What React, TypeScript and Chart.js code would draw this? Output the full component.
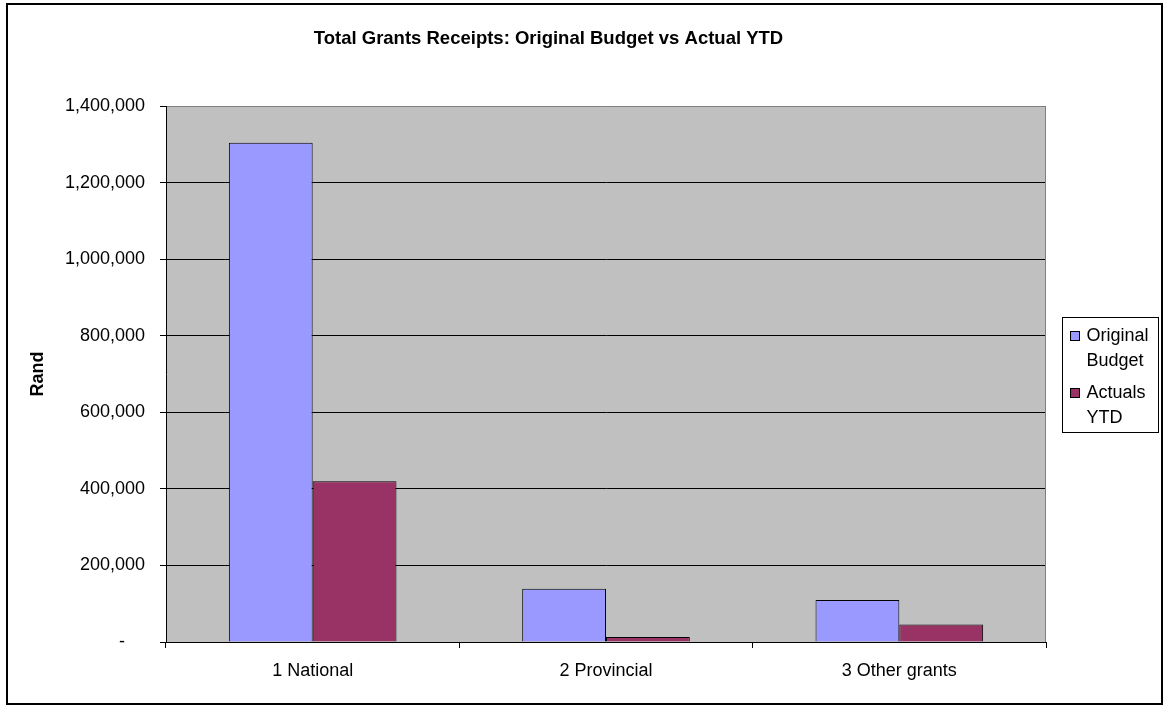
import React, { useEffect, useRef } from 'react';
import { Chart, registerables, layouts } from 'chart.js';

Chart.register(...registerables);

// ---- data ----
const CATEGORIES = ['1 National', '2 Provincial', '3 Other grants'];
const ORIGINAL_BUDGET = [1304000, 139000, 110000];
const ACTUALS_YTD = [420000, 13000, 46000];
const SERIES_NAMES = ['Original Budget', 'Actuals YTD'];
const SERIES_COLORS = ['#9999FF', '#993366'];
const Y_MIN = 0;
const Y_MAX = 1400000;
const Y_STEP = 200000;
const CHART_TITLE = 'Total Grants Receipts: Original Budget vs Actual YTD';
const Y_TITLE = 'Rand';

// ---- look ----
const FONT = '"Liberation Sans", Arial, Helvetica, sans-serif';
const W = 1165;
const H = 706;
const PLOT_BG = '#C0C0C0';
// space right of the plot: part is the legend slot, part is outer padding
const LEGEND_SLOT_W = 51;
const RIGHT_PAD = 68;

function wrapWords(ctx: CanvasRenderingContext2D, text: string, maxW: number): string[] {
  const words = text.split(' ');
  const lines: string[] = [];
  let cur = '';
  for (const w of words) {
    const trial = cur ? cur + ' ' + w : w;
    if (cur && ctx.measureText(trial).width > maxW) {
      lines.push(cur);
      cur = w;
    } else {
      cur = trial;
    }
  }
  if (cur) lines.push(cur);
  return lines;
}

// Boxed legend that sits in its own layout slot to the right of the plot
function makeLegendBox(chart: any) {
  const box: any = {
    position: 'right',
    weight: 100,
    fullSize: false,
    options: {},
    left: 0,
    top: 0,
    right: 0,
    bottom: 0,
    width: 0,
    height: 0,
    isHorizontal() {
      return false;
    },
    update(_maxWidth: number, maxHeight: number) {
      box.width = LEGEND_SLOT_W;
      box.height = maxHeight;
    },
    draw() {
      const ctx: CanvasRenderingContext2D = chart.ctx;
      const area = chart.chartArea;
      ctx.save();
      ctx.font = `18px ${FONT}`;
      const frameW = 96;
      const textX = 24;
      const lineH = 24.5;
      const itemGap = 8;
      const firstBase = 23.5;
      const bottomPad = 10;
      const items = chart.data.datasets.map((ds: any) => ({
        lines: wrapWords(ctx, ds.label, frameW - textX - 4),
        color: ds.backgroundColor,
      }));
      const totalLines = items.reduce((s: number, it: any) => s + it.lines.length, 0);
      const frameH = firstBase + (totalLines - 1) * lineH + (items.length - 1) * itemGap + bottomPad;
      const fx = Math.round(area.right + 16) + 0.5;
      const fy = Math.round((area.top + area.bottom) / 2 - frameH / 2) + 0.5;

      ctx.fillStyle = '#FFFFFF';
      ctx.fillRect(fx, fy, frameW, frameH);
      ctx.strokeStyle = '#000000';
      ctx.lineWidth = 1;
      ctx.strokeRect(fx, fy, frameW, frameH);

      ctx.textAlign = 'left';
      ctx.textBaseline = 'alphabetic';
      let base = fy + firstBase;
      items.forEach((it: any, i: number) => {
        if (i > 0) base += itemGap;
        const sx = fx + 8;
        const sy = Math.round(base - 10.5) + 0.5;
        ctx.fillStyle = it.color;
        ctx.fillRect(sx, sy, 9, 9);
        ctx.strokeStyle = '#000000';
        ctx.strokeRect(sx, sy, 9, 9);
        ctx.fillStyle = '#000000';
        it.lines.forEach((ln: string, j: number) => {
          if (j > 0) base += lineH;
          ctx.fillText(ln, fx + textX, base);
        });
        base += lineH;
      });
      ctx.restore();
    },
  };
  return box;
}

const sideLegend = {
  id: 'sideLegend',
  beforeInit(chart: any) {
    layouts.addBox(chart, makeLegendBox(chart));
  },
};

// White page, outer frame and grey plot area
const chartFrame = {
  id: 'chartFrame',
  beforeDraw(chart: any) {
    const { ctx, chartArea } = chart;
    ctx.save();
    ctx.fillStyle = '#FFFFFF';
    ctx.fillRect(0, 0, chart.width, chart.height);
    ctx.strokeStyle = '#000000';
    ctx.lineWidth = 2;
    ctx.strokeRect(7, 4, chart.width - 10, chart.height - 6);
    ctx.fillStyle = PLOT_BG;
    ctx.fillRect(chartArea.left, chartArea.top, chartArea.right - chartArea.left, chartArea.bottom - chartArea.top);
    ctx.restore();
  },
  beforeDatasetsDraw(chart: any) {
    const { ctx, chartArea } = chart;
    ctx.save();
    ctx.strokeStyle = '#808080';
    ctx.lineWidth = 1;
    ctx.beginPath();
    const x = Math.round(chartArea.right) - 0.5;
    ctx.moveTo(x, chartArea.top);
    ctx.lineTo(x, chartArea.bottom);
    ctx.stroke();
    ctx.restore();
  },
};

export default function App() {
  const canvasRef = useRef<HTMLCanvasElement | null>(null);

  useEffect(() => {
    document.body.style.margin = '0';
    const canvas = canvasRef.current;
    if (!canvas) return;

    const chart = new Chart(canvas, {
      type: 'bar',
      data: {
        labels: CATEGORIES,
        datasets: [
          {
            label: SERIES_NAMES[0],
            data: ORIGINAL_BUDGET,
            backgroundColor: SERIES_COLORS[0],
            borderColor: '#000000',
            borderWidth: 1,
          },
          {
            label: SERIES_NAMES[1],
            data: ACTUALS_YTD,
            backgroundColor: SERIES_COLORS[1],
            borderColor: '#000000',
            borderWidth: 1,
          },
        ],
      },
      options: {
        responsive: false,
        animation: false,
        devicePixelRatio: 1,
        datasets: {
          bar: {
            categoryPercentage: 2 / 3.5,
            barPercentage: 1,
          },
        },
        layout: { padding: { left: 0, top: 0, bottom: 0, right: RIGHT_PAD } },
        plugins: {
          legend: { display: false },
          tooltip: { enabled: false },
          title: {
            display: true,
            text: CHART_TITLE,
            color: '#000000',
            font: { family: FONT, size: 18.5, weight: 'bold' },
            padding: { top: 27.4, bottom: 56.4 },
          },
        },
        scales: {
          x: {
            grid: {
              offset: true,
              drawOnChartArea: false,
              drawTicks: true,
              tickLength: 6,
              color: '#000000',
            },
            border: { display: true, color: '#000000', width: 1 },
            ticks: {
              color: '#000000',
              font: { family: FONT, size: 18 },
              padding: 12,
              maxRotation: 0,
              autoSkip: false,
            },
            afterFit: (s: any) => {
              s.height = 64;
            },
          },
          y: {
            min: Y_MIN,
            max: Y_MAX,
            grid: {
              color: (c: any) => (c.tick && c.tick.value === Y_MAX ? '#808080' : '#000000'),
              tickColor: '#000000',
              lineWidth: 1,
              drawTicks: true,
              tickLength: 6,
            },
            border: { display: true, color: '#000000', width: 1 },
            ticks: {
              stepSize: Y_STEP,
              color: '#000000',
              font: { family: FONT, size: 18 },
              padding: 15,
              autoSkip: false,
              callback: (v: any) => (Number(v) === 0 ? '-    ' : Number(v).toLocaleString('en-US')),
            },
            title: {
              display: true,
              text: Y_TITLE,
              color: '#000000',
              font: { family: FONT, size: 18, weight: 'bold' },
              padding: { top: 27, bottom: 0 },
            },
            afterFit: (s: any) => {
              s.width = 166;
            },
          },
        },
      },
      plugins: [chartFrame, sideLegend],
    });

    return () => {
      chart.destroy();
    };
  }, []);

  return (
    <div style={{ width: W, height: H, position: 'relative' }}>
      <canvas ref={canvasRef} width={W} height={H} style={{ display: 'block' }} />
    </div>
  );
}
